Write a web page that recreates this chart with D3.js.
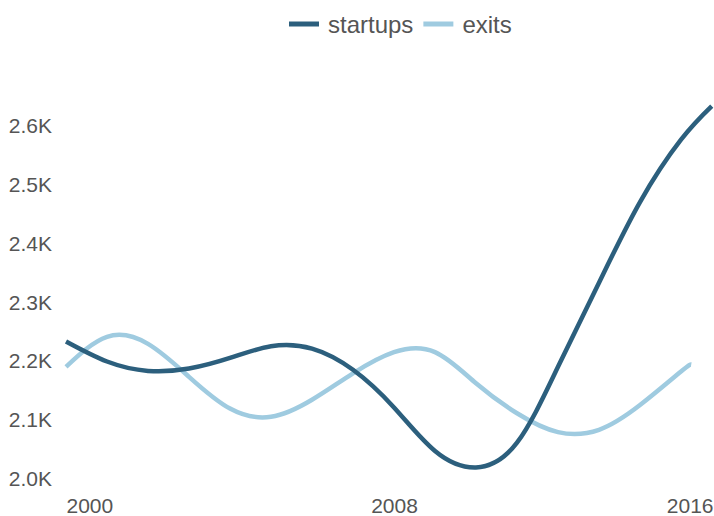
<!DOCTYPE html>
<html>
<head>
<meta charset="utf-8">
<script src="https://cdn.jsdelivr.net/npm/d3@7"></script>
<style>
  body { margin: 0; background: #fff; }
  svg text { font-family: "Liberation Sans", Arial, Helvetica, sans-serif; fill: #555; }
</style>
</head>
<body>
<div id="chart"></div>
<script>
// values
var seriesNames = ["startups", "exits"];
var startupYears = [2000, 2001, 2002, 2003, 2004, 2005, 2006, 2007, 2008, 2009, 2010, 2011, 2012, 2013, 2014, 2015, 2015.75];
var startupValues = [2232, 2198, 2182, 2186, 2204, 2224, 2220, 2184, 2120, 2046, 2018, 2060, 2189, 2332, 2469, 2575, 2632];
var exitYears = [2000, 2001, 2002, 2003, 2004, 2005, 2006, 2007, 2008, 2009, 2010, 2011, 2012, 2013, 2014, 2015, 2015.25];
var exitValues = [2189, 2240, 2228, 2172, 2118, 2104, 2133, 2178, 2214, 2214, 2161, 2110, 2078, 2082, 2124, 2181, 2193];
var xTicks = [2000, 2008, 2016];
var yTicks = [2000, 2100, 2200, 2300, 2400, 2500, 2600];
var colors = ["#2c5f7d", "#9fcbe0"];

window.onload = function() {
  drawChart();
};

function drawChart() {
  var width = 714,
      height = 516;

  var svg = d3.select("#chart")
    .append("svg")
    .attr("width", width)
    .attr("height", height);

  // scales, 2000 sits at the left edge of the plot
  var xScale = d3.scaleLinear()
    .domain([2000, 2016])
    .range([66, 722]);
  var yScale = d3.scaleLinear()
    .domain([2000, 2600])
    .range([478, 125]);

  // y axis, labels only
  var yAxis = d3.axisLeft(yScale)
    .tickValues(yTicks)
    .tickSize(0)
    .tickPadding(0)
    .tickFormat(function(d) { return d3.format(".1f")(d / 1000) + "K"; });

  var yg = svg.append("g")
    .attr("transform", "translate(52,0)")
    .call(yAxis);
  yg.select(".domain").remove();
  yg.selectAll("text")
    .attr("x", 0)
    .attr("dy", "0.36em")
    .style("font-size", "21px")
    .attr("fill", "#555");

  // x axis, first label flush left, last label kept inside the picture
  var xAxis = d3.axisBottom(xScale)
    .tickValues(xTicks)
    .tickSize(0)
    .tickPadding(0)
    .tickFormat(d3.format("d"));

  var xg = svg.append("g")
    .attr("transform", "translate(0,513)")
    .call(xAxis);
  xg.select(".domain").remove();
  xg.selectAll("text")
    .attr("y", 0)
    .attr("dy", 0)
    .style("font-size", "21px")
    .attr("fill", "#555")
    .each(function(d, i) {
      var t = d3.select(this);
      if (i === 0) {
        t.attr("text-anchor", "start");
      } else if (i === xTicks.length - 1) {
        t.attr("text-anchor", "end")
          .attr("x", Math.min(0, (width - 1) - xScale(d)));
      }
    });

  // the two lines
  var line = d3.line()
    .x(function(d) { return xScale(d[0]); })
    .y(function(d) { return yScale(d[1]); })
    .curve(d3.curveNatural);

  var lines = [
    d3.zip(startupYears, startupValues),
    d3.zip(exitYears, exitValues)
  ];

  // exits first so startups is drawn on top
  [1, 0].forEach(function(i) {
    svg.append("path")
      .datum(lines[i])
      .attr("d", line)
      .attr("fill", "none")
      .attr("stroke", colors[i])
      .attr("stroke-width", 4.5)
      .attr("stroke-linecap", "butt");
  });

  // legend on top
  var legend = svg.append("g")
    .attr("transform", "translate(289,0)");
  var offset = 0;
  seriesNames.forEach(function(name, i) {
    var item = legend.append("g")
      .attr("transform", "translate(" + offset + ",0)");
    item.append("line")
      .attr("x1", 0)
      .attr("x2", 30)
      .attr("y1", 24)
      .attr("y2", 24)
      .attr("stroke", colors[i])
      .attr("stroke-width", 5);
    var label = item.append("text")
      .attr("x", 39)
      .attr("y", 33)
      .style("font-size", "24px")
      .attr("fill", "#555")
      .text(name);
    offset += 39 + label.node().getComputedTextLength() + 10;
  });
}
</script>
</body>
</html>
